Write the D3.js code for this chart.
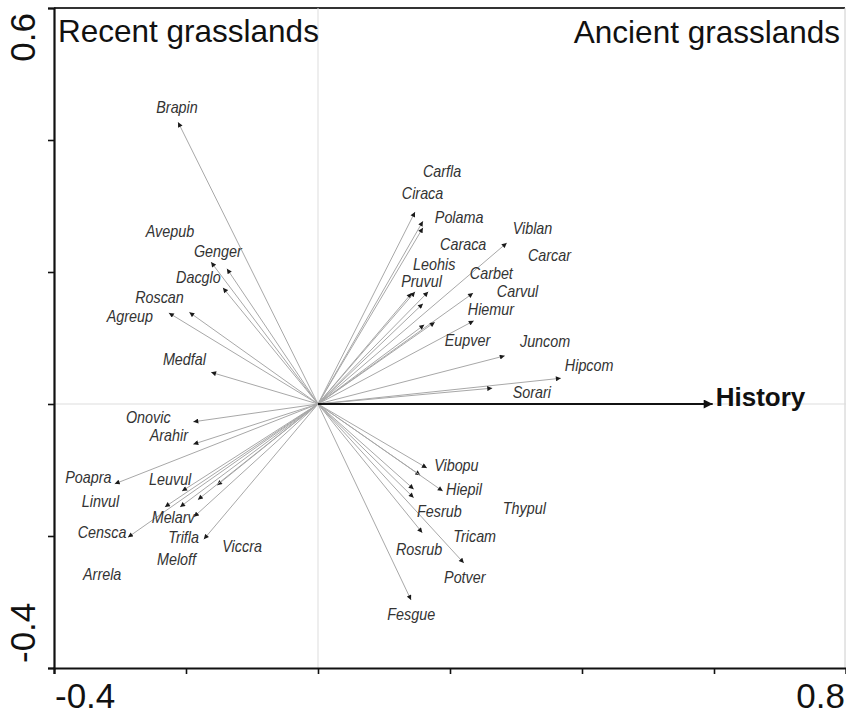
<!DOCTYPE html>
<html>
<head>
<meta charset="utf-8">
<script src="https://cdn.jsdelivr.net/npm/d3@7/dist/d3.min.js"></script>
<style>
  html, body { margin: 0; padding: 0; background: #fff; }
  svg { display: block; }
</style>
</head>
<body>
<svg id="chart" width="846" height="716"></svg>
<script>
// ---- data ----
const species = ["Brapin","Avepub","Genger","Dacglo","Roscan","Agreup","Medfal",
  "Onovic","Arahir","Poapra","Leuvul","Viccra","Arrela","Meloff","Linvul","Melarv","Censca","Trifla",
  "Ciraca","Carfla","Polama","Viblan","Leohis","Pruvul","Caraca","Carbet","Eupver","Hiemur","Carcar","Carvul","Juncom","Hipcom","Sorari",
  "Vibopu","Thypul","Hiepil","Fesrub","Tricam","Rosrub","Potver","Fesgue"];
const axis1 = [-0.212,-0.162,-0.138,-0.144,-0.195,-0.226,-0.162,
  -0.189,-0.189,-0.308,-0.206,-0.153,-0.182,-0.209,-0.232,-0.188,-0.288,-0.173,
  0.147,0.159,0.159,0.286,0.142,0.147,0.167,0.235,0.159,0.161,0.177,0.236,0.283,0.368,0.264,
  0.165,0.155,0.189,0.145,0.145,0.158,0.221,0.141];
const axis2 = [0.427,0.215,0.205,0.176,0.139,0.138,0.048,
  -0.027,-0.061,-0.121,-0.132,-0.123,-0.145,-0.156,-0.156,-0.171,-0.202,-0.205,
  0.291,0.277,0.267,0.244,0.168,0.170,0.170,0.168,0.152,0.120,0.124,0.126,0.073,0.039,0.024,
  -0.097,-0.108,-0.132,-0.129,-0.142,-0.195,-0.241,-0.297];
// label anchor (start of text, baseline) in axis units
const labelX = [-0.245,-0.261,-0.188,-0.215,-0.277,-0.320,-0.235,
  -0.291,-0.255,-0.383,-0.256,-0.145,-0.356,-0.244,-0.358,-0.252,-0.364,-0.227,
  0.127,0.159,0.177,0.295,0.144,0.126,0.185,0.230,0.192,0.227,0.318,0.271,0.306,0.374,0.295,
  0.176,0.280,0.194,0.150,0.205,0.118,0.191,0.105];
const labelY = [0.441,0.253,0.223,0.183,0.153,0.124,0.059,
  -0.029,-0.056,-0.120,-0.123,-0.224,-0.267,-0.244,-0.156,-0.180,-0.203,-0.211,
  0.311,0.344,0.274,0.258,0.203,0.177,0.233,0.189,0.088,0.135,0.217,0.162,0.086,0.050,0.009,
  -0.102,-0.167,-0.138,-0.171,-0.209,-0.229,-0.271,-0.327];
const envName = ["History"];
const envX = [0.598];
const envY = [0.0];
const xDomain = [-0.4, 0.8];
const yDomain = [-0.4, 0.6];
const xTicks = [-0.4, -0.2, 0, 0.2, 0.4, 0.6, 0.8];
const yTicks = [-0.4, -0.2, 0, 0.2, 0.4, 0.6];
const xTickLabels = ["-0.4", "0.8"];
const yTickLabels = ["0.6", "-0.4"];
const cornerTitles = ["Recent grasslands", "Ancient grasslands"];

// ---- layout ----
const svg = d3.select("#chart");
const L = 54, R = 846, T = 8, B = 668;
const x = d3.scaleLinear().domain(xDomain).range([L, R]);
const y = d3.scaleLinear().domain(yDomain).range([B, T]);

const defs = svg.append("defs");
defs.append("marker").attr("id", "ah")
  .attr("viewBox", "0 0 10 10").attr("refX", 10).attr("refY", 5)
  .attr("markerWidth", 6).attr("markerHeight", 5)
  .attr("markerUnits", "userSpaceOnUse").attr("orient", "auto")
  .append("path").attr("d", "M0,0 L10,5 L0,10 z").attr("fill", "#1a1a1a");
defs.append("marker").attr("id", "ahBig")
  .attr("viewBox", "0 0 10 10").attr("refX", 10).attr("refY", 5)
  .attr("markerWidth", 15).attr("markerHeight", 9)
  .attr("markerUnits", "userSpaceOnUse").attr("orient", "auto")
  .append("path").attr("d", "M0,0 L10,5 L0,10 z").attr("fill", "#111");

// frame (top dark, right light)
svg.append("line").attr("x1", L).attr("x2", R - 1).attr("y1", T).attr("y2", T)
  .attr("stroke", "#333").attr("stroke-width", 2);
svg.append("line").attr("x1", R - 1).attr("x2", R - 1).attr("y1", T).attr("y2", B)
  .attr("stroke", "#ccc").attr("stroke-width", 1);

// zero lines
svg.append("line").attr("x1", x(0)).attr("x2", x(0)).attr("y1", T).attr("y2", B)
  .attr("stroke", "#ddd").attr("stroke-width", 1);
svg.append("line").attr("x1", L).attr("x2", R).attr("y1", y(0)).attr("y2", y(0))
  .attr("stroke", "#ddd").attr("stroke-width", 1);

// axes
const xAxis = svg.append("g").attr("transform", `translate(0,${B})`)
  .call(d3.axisBottom(x).tickValues(xTicks).tickSize(6).tickFormat(""));
const yAxis = svg.append("g").attr("transform", `translate(${L},0)`)
  .call(d3.axisLeft(y).tickValues(yTicks).tickSize(6).tickFormat(""));
[xAxis, yAxis].forEach(g => {
  g.select(".domain").attr("stroke", "#111").attr("stroke-width", 2.2);
  g.selectAll(".tick line").attr("stroke", "#111").attr("stroke-width", 1.6);
});

// tick labels (only extremes are labelled)
svg.append("text").attr("x", x(-0.4) + 1).attr("y", 708)
  .attr("font-family", "Liberation Sans, Arial, sans-serif").attr("font-size", 35)
  .attr("fill", "#111").text(xTickLabels[0]);
svg.append("text").attr("x", x(0.8) - 1).attr("y", 708).attr("text-anchor", "end")
  .attr("font-family", "Liberation Sans, Arial, sans-serif").attr("font-size", 35)
  .attr("fill", "#111").text(xTickLabels[1]);
svg.append("text").attr("transform", `translate(35,${y(0.6) + 5}) rotate(-90)`)
  .attr("text-anchor", "end")
  .attr("font-family", "Liberation Sans, Arial, sans-serif").attr("font-size", 35)
  .attr("fill", "#111").text(yTickLabels[0]);
svg.append("text").attr("transform", `translate(35,${y(-0.4) - 5}) rotate(-90)`)
  .attr("text-anchor", "start")
  .attr("font-family", "Liberation Sans, Arial, sans-serif").attr("font-size", 35)
  .attr("fill", "#111").text(yTickLabels[1]);

// corner titles
svg.append("text").attr("x", L + 4).attr("y", 42)
  .attr("font-family", "Liberation Sans, Arial, sans-serif").attr("font-size", 31.5)
  .attr("fill", "#111").text(cornerTitles[0]);
svg.append("text").attr("x", R - 6).attr("y", 43).attr("text-anchor", "end")
  .attr("font-family", "Liberation Sans, Arial, sans-serif").attr("font-size", 31.5)
  .attr("fill", "#111").text(cornerTitles[1]);

// species arrows
const sp = species.map((s, i) => ({ name: s, x: axis1[i], y: axis2[i], lx: labelX[i], ly: labelY[i] }));
svg.append("g").selectAll("line").data(sp).join("line")
  .attr("x1", x(0)).attr("y1", y(0))
  .attr("x2", d => x(d.x)).attr("y2", d => y(d.y))
  .attr("stroke", "#a8a8a8").attr("stroke-width", 1)
  .attr("marker-end", "url(#ah)");
svg.append("g").selectAll("text").data(sp).join("text")
  .attr("transform", d => `translate(${x(d.lx)},${y(d.ly)}) scale(0.87,1)`)
  .attr("font-family", "Liberation Sans, Arial, sans-serif")
  .attr("font-style", "italic").attr("font-size", 16.5)
  .attr("fill", "#333")
  .text(d => d.name);

// environmental arrow
const env = envName.map((n, i) => ({ name: n, x: envX[i], y: envY[i] }));
svg.append("g").selectAll("line").data(env).join("line")
  .attr("x1", x(0)).attr("y1", y(0))
  .attr("x2", d => x(d.x)).attr("y2", d => y(d.y))
  .attr("stroke", "#111").attr("stroke-width", 2)
  .attr("marker-end", "url(#ahBig)");
svg.append("g").selectAll("text").data(env).join("text")
  .attr("x", d => x(d.x) + 3).attr("y", d => y(d.y) + 2)
  .attr("font-family", "Liberation Sans, Arial, sans-serif")
  .attr("font-weight", "bold").attr("font-size", 26)
  .attr("fill", "#111")
  .text(d => d.name);
</script>
</body>
</html>
